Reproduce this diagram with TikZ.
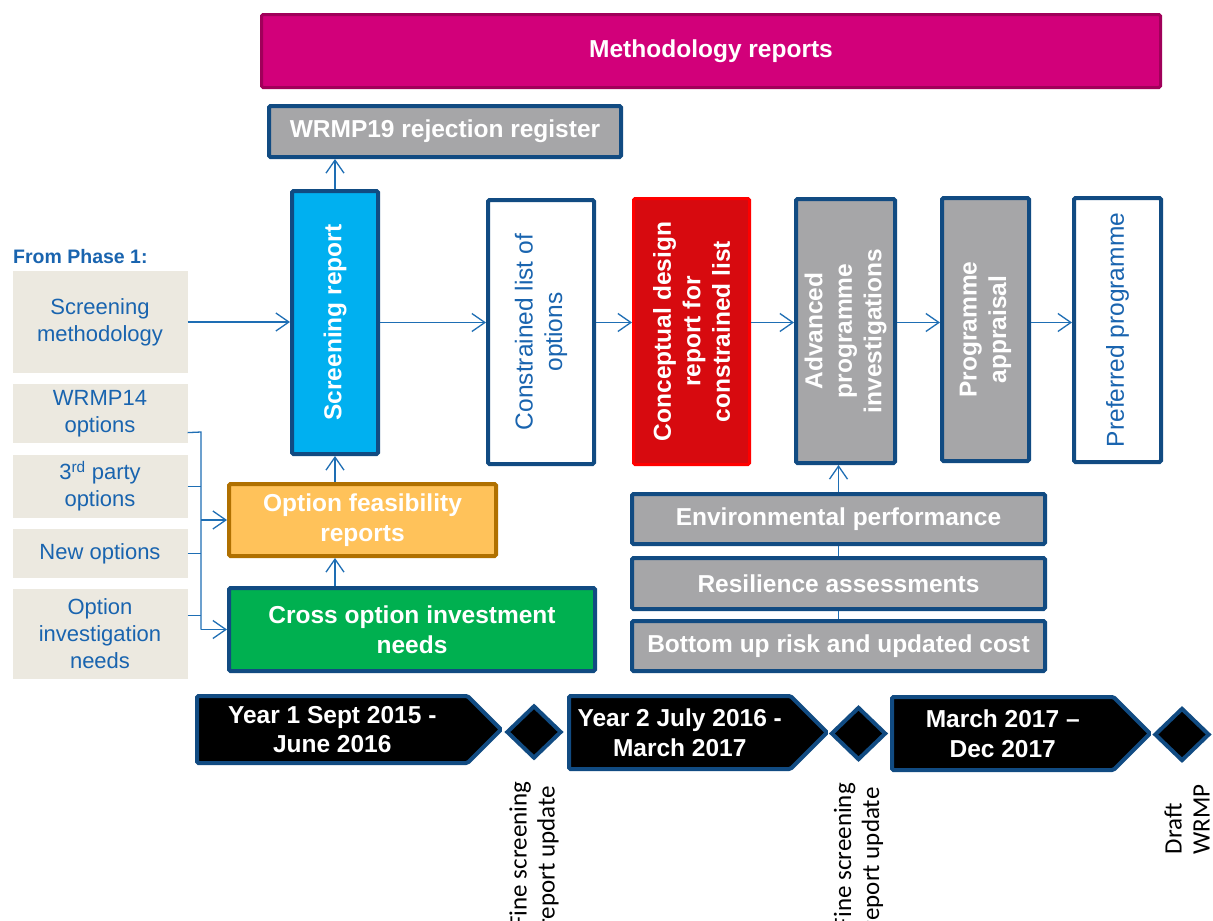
\documentclass[tikz,border=0pt]{standalone}
\usepackage{fontspec}
\setmainfont{Liberation Sans}
\newfontfamily\notefamily{Carlito}
\usetikzlibrary{arrows.meta,positioning,shapes.geometric,shapes.symbols}

\definecolor{edgeblue}{RGB}{17,75,130}
\definecolor{arrowblue}{RGB}{30,110,180}
\definecolor{textblue}{RGB}{25,100,175}
\definecolor{magfill}{RGB}{210,0,122}
\definecolor{magline}{RGB}{160,0,90}
\definecolor{greyfill}{RGB}{166,166,168}
\definecolor{cyanfill}{RGB}{0,176,240}
\definecolor{redfill}{RGB}{215,10,15}
\definecolor{redline}{RGB}{255,0,0}
\definecolor{orfill}{RGB}{255,194,90}
\definecolor{orline}{RGB}{176,112,0}
\definecolor{grfill}{RGB}{0,176,80}
\definecolor{beige}{RGB}{236,233,224}

\newcommand\boxtextfont{\fontsize{24.5}{29.5}\selectfont\bfseries}
\newcommand\plaintextfont{\fontsize{24.5}{29.5}\selectfont}
\newcommand\sidetextfont{\fontsize{22}{27}\selectfont}
\newcommand\notetextfont{\notefamily\fontsize{25}{28}\selectfont}

\tikzset{node distance=11pt, % Gap between the boxes on the left
        box/.style={ % Sets the properties for each coloured box
            draw=edgeblue, line width=4pt,
            rounded corners=1.5pt,
            align=center, inner sep=1pt,
            text=white, font=\boxtextfont},
        grey/.style={box, fill=greyfill},
        plain/.style={box, fill=white, text=textblue, font=\plaintextfont},
        column/.style={rotate=90}, % Upright boxes, text reads upwards
        side/.style={ % Boxes brought in from phase 1
            fill=beige, text=textblue, font=\sidetextfont,
            align=center, inner sep=0pt, minimum width=175pt},
        stage/.style={ % Time periods along the bottom
            box, fill=black, anchor=west,
            signal, signal to=east, signal pointer angle=90},
        mile/.style={ % Milestones between the periods
            diamond, draw=edgeblue, line width=4pt, fill=black,
            inner sep=0pt, minimum width=55pt, minimum height=53pt},
        note/.style={rotate=90, anchor=east, align=left,
            inner sep=0pt, font=\notetextfont},
        link/.style={draw=arrowblue, line width=1.3pt},
        every edge/.style={ % Sets the properties for each connector
            draw=arrowblue,
            -{Straight Barb[length=13pt,width=18pt]},
            line width=1.3pt}
        }

\begin{document}
\begin{tikzpicture}[x=1pt,y=-1pt]
    \path[use as bounding box, fill=white] (0,0) rectangle (1213,921);

    \node[box, fill=magfill, draw=magline, line width=3pt, minimum width=899pt, minimum height=73pt] (meth) at (711,51) {Methodology reports};
    \node[grey, minimum width=352pt, minimum height=51pt] (rej) at (445,131.5) {WRMP19 rejection register};

    % main line of reports
    \node[box, column, fill=cyanfill, minimum width=263pt, minimum height=86pt] (scr) at (335,322.5) {Screening report};
    \node[plain, column, minimum width=264pt, minimum height=106pt] (con) at (541,332) {Constrained list of\\options};
    \node[box, column, fill=redfill, draw=redline, line width=3pt, minimum width=266pt, minimum height=116pt] (cdr) at (691.5,331.5) {Conceptual design\\report for\\constrained list};
    \node[grey, column, minimum width=264pt, minimum height=99pt] (adv) at (845.5,331) {Advanced\\programme\\investigations};
    \node[grey, column, minimum width=263pt, minimum height=87pt] (app) at (985.5,329.5) {Programme\\appraisal};
    \node[plain, column, minimum width=264pt, minimum height=87pt] (pref) at (1117.5,330) {Preferred programme};

    % from phase 1
    \node[anchor=base west, inner sep=0pt, text=textblue, font=\fontsize{19.5}{23}\selectfont\bfseries] (phase) at (13,263) {From Phase 1:};
    \node[side, minimum height=102pt] (sm) at (100,322) {Screening\\methodology};
    \node[side, minimum height=59pt, below=of sm] (w14) {WRMP14\\options};
    \node[side, minimum height=63pt, below=of w14] (p3) {3\textsuperscript{rd} party\\options};
    \node[side, minimum height=49pt, below=of p3] (nw) {New options};
    \node[side, minimum height=90pt, below=10pt of nw] (oin) {Option\\investigation\\needs};

    \node[box, fill=orfill, draw=orline, minimum width=267pt, minimum height=72pt] (ofr) at (362.5,520) {Option feasibility\\reports};
    \node[box, fill=grfill, minimum width=366pt, minimum height=83pt] (cox) at (412,629.5) {Cross option investment\\needs};

    \node[grey, minimum width=413pt, minimum height=50pt] (env) at (838.5,519) {Environmental performance};
    \node[grey, minimum width=413pt, minimum height=51pt, below=10pt of env] (res) {Resilience assessments};
    \node[grey, minimum width=413pt, minimum height=50pt, below=8pt of res] (bot) {Bottom up risk and updated cost};

    % timeline
    \node[stage, minimum width=304pt, minimum height=67pt] (y1) at (195,729.5) {Year 1 Sept 2015 -\\June 2016};
    \node[mile] (d1) at (534,732) {};
    \node[stage, minimum width=258pt, minimum height=73pt] (y2) at (567,732.5) {Year 2 July 2016 -\\March 2017};
    \node[mile] (d2) at (858.5,733.5) {};
    \node[stage, minimum width=258pt, minimum height=73pt] (y3) at (890,733.5) {March 2017 –\\Dec 2017};
    \node[mile] (d3) at (1182,734.5) {};

    \node[note] (n1) at ([yshift=-21pt]d1.south) {Fine screening\\report update};
    \node[note] (n2) at ([yshift=-21pt]d2.south) {Fine screening\\report update};
    \node[note] (n3) at ([xshift=5pt,yshift=-21pt]d3.south) {Draft\\WRMP};

    % bracket from the option lists
    \coordinate (bus) at (201,432);
    \draw[link] ([yshift=11pt]w14.south east) -- (bus) -- (bus |- cox.west);
    \draw[link] (p3.east) -- (p3.east -| bus);
    \draw[link] (nw.east) -- (nw.east -| bus);
    \draw[link] ([yshift=18pt]oin.east) -- ([yshift=18pt]oin.east -| bus);
    \draw[link] (bot.north) -- (res.south);
    \draw[link] (res.north) -- (env.south);

    \draw
        (scr.east) edge (scr.east |- rej.south)
        (sm.east) edge (sm.east -| scr.north)
        (scr.south) edge (scr.south -| con.north)
        (con.south |- scr) edge (cdr.north |- scr)
        (cdr.south |- scr) edge (adv.north |- scr)
        (adv.south |- scr) edge (app.north |- scr)
        (app.south |- scr) edge (pref.north |- scr)
        (scr |- ofr.north) edge (scr.west)
        (scr |- cox.north) edge (scr |- ofr.south)
        (env.north) edge (env.north |- adv.west)
        (bus |- ofr.west) edge (ofr.west)
        (bus |- cox.west) edge (cox.west);
\end{tikzpicture}
\end{document}
